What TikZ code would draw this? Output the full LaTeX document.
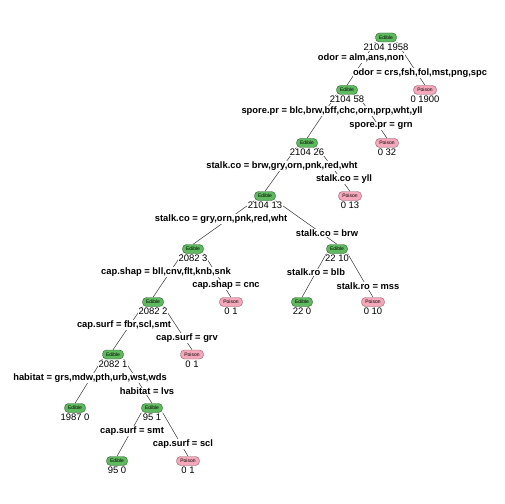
\documentclass[tikz,border=0pt]{standalone}
\usepackage{fontspec}
\setmainfont{Liberation Sans}
\usetikzlibrary{backgrounds}
\definecolor{edible}{RGB}{95,186,95}
\definecolor{edibleline}{RGB}{45,95,45}
\definecolor{poison}{RGB}{245,168,186}
\definecolor{poisonline}{RGB}{140,95,105}

\begin{document}
\begin{tikzpicture}[x=1bp,y=-1bp]

\tikzset{%
every box/.style={
draw,
rounded corners=4bp,
minimum width=21bp,
minimum height=9bp,
inner sep=0pt,
font=\fontsize{5}{6}\selectfont
},
box Edible/.style={fill=edible, draw=edibleline},
box Poison/.style={fill=poison, draw=poisonline, minimum width=23bp},
counts/.style={fill=white, inner sep=0.5pt, font=\fontsize{9.5}{11}\selectfont},
split/.style={fill=white, inner sep=0.5pt, font=\bfseries\fontsize{9.4}{11}\selectfont},
branch/.style={draw=black!80, line width=0.5pt},
}

\useasboundingbox (0,0) rectangle (504,504);

% Tree nodes: name, position, class and counts
\foreach \n/\x/\y/\c/\t in {
n1/386/37.5/Edible/{2104 1958},
n2/347/90/Edible/{2104 58},
n3/425/90/Poison/{0 1900},
n4/307/143/Edible/{2104 26},
n5/387/143/Poison/{0 32},
n8/265/196/Edible/{2104 13},
n9/350/196/Poison/{0 13},
n16/193/249/Edible/{2082 3},
n17/337/249/Edible/{22 10},
n32/153/302/Edible/{2082 2},
n33/231/302/Poison/{0 1},
n34/302/302/Edible/{22 0},
n35/373/302/Poison/{0 10},
n64/113/354.5/Edible/{2082 1},
n65/192/354.5/Poison/{0 1},
n128/75/408/Edible/{1987 0},
n129/152/408/Edible/{95 1},
n258/117/461/Edible/{95 0},
n259/188/461/Poison/{0 1}}
{
\node [every box/.try, box \c/.try] (\n) at (\x,\y) {\c};
\node [counts] (\n-c) at (\x,\y+9.5) {\t};
}

% Branches from parent corners to child tops
\begin{scope}[on background layer]
\foreach \p/\q/\s in {n1/n2/west, n1/n3/east, n2/n4/west, n2/n5/east,
n4/n8/west, n4/n9/east, n8/n16/west, n8/n17/east,
n16/n32/west, n16/n33/east, n17/n34/west, n17/n35/east,
n32/n64/west, n32/n65/east, n64/n128/west, n64/n129/east,
n129/n258/west, n129/n259/east}
\draw [branch] (\p.south \s) -- (\q.north);
\end{scope}

% Split labels
\foreach \x/\y/\l [count=\i] in {
361/58/{odor = alm,ans,non},
420/73/{odor = crs,fsh,fol,mst,png,spc},
332/111/{spore.pr = blc,brw,bff,chc,orn,prp,wht,yll},
381/126/{spore.pr = grn},
282/166/{stalk.co = brw,gry,orn,pnk,red,wht},
344/179/{stalk.co = yll},
221/219/{stalk.co = gry,orn,pnk,red,wht},
327/233/{stalk.co = brw},
166/272/{cap.shap = bll,cnv,flt,knb,snk},
226/285/{cap.shap = cnc},
316/272.5/{stalk.ro = blb},
368/286/{stalk.ro = mss},
124/325/{cap.surf = fbr,scl,smt},
187/338/{cap.surf = grv},
90/378/{habitat = grs,mdw,pth,urb,wst,wds},
147/391.5/{habitat = lvs},
132/431/{cap.surf = smt},
183/444/{cap.surf = scl}}
\node [split] (split-\i) at (\x,\y) {\l};

\end{tikzpicture}
\end{document}
